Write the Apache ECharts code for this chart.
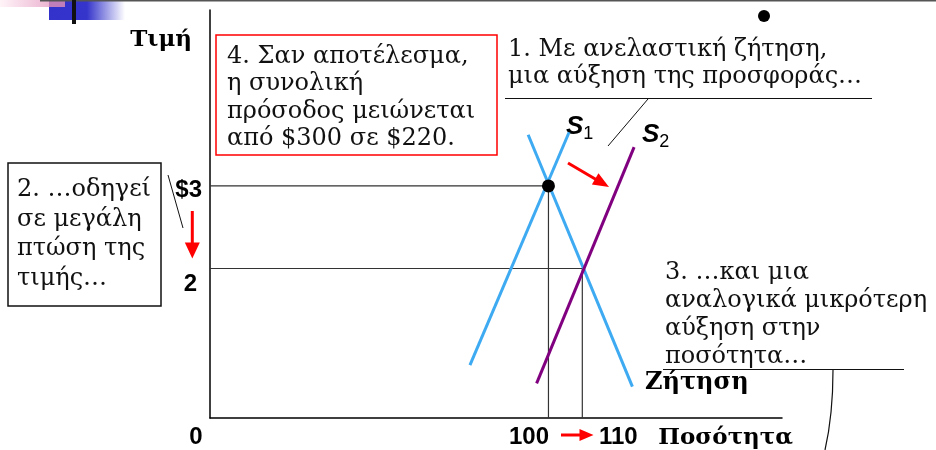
<!DOCTYPE html>
<html>
<head>
<meta charset="utf-8">
<script src="https://cdn.jsdelivr.net/npm/echarts@6/dist/echarts.min.js"></script>
<style>
html,body{margin:0;padding:0;background:#fff;}
#chart{width:936px;height:450px;}
</style>
</head>
<body>
<div id="chart"></div>
<script>
// ---- data ----
const quantityTicks = [0, 100, 110];
const quantityTickLabels = ['0', '100', '110'];
const priceTicks = [2, 3];
const priceTickLabels = ['2', '$3'];
const demand = [[94.0, 3.62], [124.8, 0.57]];
const supply1 = [[76.8, 0.83], [106.1, 3.65]];
const supply2 = [[96.5, 0.61], [125.3, 3.47]];
const oldEquilibrium = [100, 3];
const newEquilibrium = [110, 2];
const xName = 'Ποσότητα';
const yName = 'Τιμή';
const demandName = 'Ζήτηση';
const note1 = ['1. Με ανελαστική ζήτηση,', 'μια αύξηση της προσφοράς…'];
const note2 = ['2. …οδηγεί', 'σε μεγάλη', 'πτώση της', 'τιμής…'];
const note3 = ['3. …και μια', 'αναλογικά μικρότερη', 'αύξηση στην', 'ποσότητα…'];
const note4 = ['4. Σαν αποτέλεσμα,', 'η συνολική', 'πρόσοδος μειώνεται', 'από $300 σε $220.'];

const X_MIN = 0, X_MAX = 169, Y_MIN = 0.19, Y_MAX = 5.13;

const chart = echarts.init(document.getElementById('chart'), null, {renderer: 'canvas'});

const tickFont = '"Liberation Sans Narrow", "Liberation Sans", Arial, sans-serif';
const serif = '"DejaVu Serif", serif';

function guide(pt) {
  return [[X_MIN, pt[1]], [pt[0], pt[1]], [pt[0], Y_MIN]];
}

function arrow(x1, y1, x2, y2, len, w) {
  const dx = x2 - x1, dy = y2 - y1, L = Math.hypot(dx, dy);
  const ux = dx / L, uy = dy / L;
  const bx = x2 - ux * len, by = y2 - uy * len;
  return [
    {type: 'line', shape: {x1: x1, y1: y1, x2: bx + ux, y2: by + uy}, style: {stroke: '#ff0000', lineWidth: 3}, silent: true},
    {type: 'polygon', shape: {points: [[x2, y2], [bx - uy * w / 2, by + ux * w / 2], [bx + uy * w / 2, by - ux * w / 2]]}, style: {fill: '#ff0000'}, silent: true}
  ];
}

const tickStyle = {fontFamily: tickFont, fontWeight: 'bold', fontSize: 24, color: '#000'};
const xRich = {
  q0: Object.assign({}, tickStyle, {padding: [0, 28, 0, 0]}),
  q1: Object.assign({}, tickStyle, {padding: [0, 39, 0, 0]}),
  q2: Object.assign({}, tickStyle, {padding: [0, 0, 0, 72]})
};
const yRich = {
  p0: Object.assign({}, tickStyle, {padding: [31, 5, 0, 0]}),
  p1: Object.assign({}, tickStyle, {padding: [8, 0, 0, 0]})
};

const graphics = [];
// top slide decoration
graphics.push({type: 'rect', shape: {x: 49, y: 0, width: 76, height: 20}, style: {fill: new echarts.graphic.LinearGradient(0, 0, 1, 0, [{offset: 0, color: '#3333cc'}, {offset: 0.5, color: '#3535cc'}, {offset: 1, color: '#ffffff'}])}, silent: true});
graphics.push({type: 'rect', shape: {x: 0, y: 0, width: 65, height: 7}, style: {fill: new echarts.graphic.LinearGradient(0, 0, 1, 0, [{offset: 0, color: '#fff4f8'}, {offset: 1, color: '#e6a2c6'}])}, silent: true});
graphics.push({type: 'rect', shape: {x: 49, y: 0, width: 16, height: 7}, style: {fill: '#c07fba'}, silent: true});
graphics.push({type: 'rect', shape: {x: 40, y: 0, width: 896, height: 1.5}, style: {fill: '#555'}, silent: true});
graphics.push({type: 'rect', shape: {x: 72, y: 0, width: 4, height: 24}, style: {fill: '#111'}, silent: true});
graphics.push({type: 'circle', shape: {cx: 764, cy: 16, r: 6}, style: {fill: '#000'}, silent: true});

const noteFont = '24px ' + serif;
// note 4 (red box)
graphics.push({type: 'rect', shape: {x: 216, y: 35, width: 281, height: 120}, style: {fill: '#fff', stroke: '#ff0000', lineWidth: 1.5}, z: 10, silent: true});
graphics.push({type: 'text', x: 227, y: 43, z: 11, style: {text: note4.join('\n'), font: noteFont, fill: '#111', lineHeight: 27.4, verticalAlign: 'top'}, silent: true});
// note 2 (black box)
graphics.push({type: 'rect', shape: {x: 8, y: 163, width: 153, height: 143}, style: {fill: '#fff', stroke: '#111', lineWidth: 1.5}, z: 10, silent: true});
graphics.push({type: 'text', x: 17, y: 175, z: 11, style: {text: note2.join('\n'), font: noteFont, fill: '#111', lineHeight: 29.6, verticalAlign: 'top'}, silent: true});
graphics.push({type: 'line', shape: {x1: 168, y1: 175, x2: 183, y2: 228}, style: {stroke: '#111', lineWidth: 1}, silent: true});
// note 1
graphics.push({type: 'text', x: 508, y: 36, z: 11, style: {text: note1.join('\n'), font: noteFont, fill: '#111', lineHeight: 27, verticalAlign: 'top'}, silent: true});
graphics.push({type: 'line', shape: {x1: 505, y1: 98.5, x2: 872, y2: 98.5}, style: {stroke: '#111', lineWidth: 1.2}, silent: true});
graphics.push({type: 'line', shape: {x1: 648, y1: 99, x2: 608, y2: 146}, style: {stroke: '#111', lineWidth: 1}, silent: true});
// note 3
graphics.push({type: 'text', x: 665, y: 259, z: 11, style: {text: note3.join('\n'), font: noteFont, fill: '#111', lineHeight: 28, verticalAlign: 'top'}, silent: true});
graphics.push({type: 'line', shape: {x1: 663, y1: 369.5, x2: 904, y2: 369.5}, style: {stroke: '#111', lineWidth: 1.2}, silent: true});
graphics.push({type: 'bezierCurve', shape: {x1: 833, y1: 370, x2: 825, y2: 450, cpx1: 833, cpy1: 415}, style: {stroke: '#111', lineWidth: 1.2, fill: null}, silent: true});
// red arrows
arrow(192.3, 211, 192.3, 258.5, 16, 15).forEach(g => graphics.push(g));
arrow(561, 435, 593.5, 435, 14, 12).forEach(g => graphics.push(g));
arrow(568, 163, 609, 187, 16, 13).forEach(g => graphics.push(g));
// curve labels
const sRich = {s: {fontFamily: tickFont, fontStyle: 'italic', fontWeight: 'bold', fontSize: 26, fill: '#000'}, n: {fontFamily: tickFont, fontSize: 18, fill: '#000', padding: [14, 0, 0, 0]}};
graphics.push({type: 'text', x: 566, y: 111, style: {text: '{s|S}{n|1}', rich: sRich, verticalAlign: 'top'}, silent: true});
graphics.push({type: 'text', x: 642, y: 119, style: {text: '{s|S}{n|2}', rich: sRich, verticalAlign: 'top'}, silent: true});
graphics.push({type: 'text', x: 645, y: 371, style: {text: demandName, font: 'bold 24px ' + serif, fill: '#000', verticalAlign: 'top'}, silent: true});

const option = {
  animation: false,
  backgroundColor: '#fff',
  grid: {left: 210, top: 10, right: 154, bottom: 32, containLabel: false, outerBoundsMode: 'none'},
  xAxis: {
    type: 'value', min: X_MIN, max: X_MAX,
    name: xName, nameLocation: 'end', nameGap: 11,
    nameTextStyle: {fontFamily: serif, fontWeight: 'bold', fontSize: 23, color: '#000', align: 'right', verticalAlign: 'top', padding: [9, 0, 0, 0]},
    axisLine: {show: true, onZero: false, lineStyle: {color: '#000', width: 1.5}},
    axisTick: {show: false},
    splitLine: {show: false},
    axisLabel: {
      show: true, margin: 7, customValues: quantityTicks,
      formatter: function (v) { const i = quantityTicks.indexOf(v); return i < 0 ? '' : '{q' + i + '|' + quantityTickLabels[i] + '}'; },
      rich: xRich
    }
  },
  yAxis: {
    type: 'value', min: Y_MIN, max: Y_MAX,
    name: yName, nameLocation: 'end', nameGap: -30,
    nameTextStyle: {fontFamily: serif, fontWeight: 'bold', fontSize: 23, color: '#000', align: 'right', verticalAlign: 'middle', padding: [0, 18, 0, 0]},
    axisLine: {show: true, onZero: false, lineStyle: {color: '#000', width: 1.5}},
    axisTick: {show: false},
    splitLine: {show: false},
    axisLabel: {
      show: true, margin: 8, customValues: priceTicks,
      formatter: function (v) { const i = priceTicks.indexOf(v); return i < 0 ? '' : '{p' + i + '|' + priceTickLabels[i] + '}'; },
      rich: yRich
    }
  },
  series: [
    {type: 'line', name: 'guide1', data: guide(oldEquilibrium), symbol: 'none', lineStyle: {color: '#333', width: 1.2}, z: 1, silent: true},
    {type: 'line', name: 'guide2', data: guide(newEquilibrium), symbol: 'none', lineStyle: {color: '#333', width: 1.2}, z: 1, silent: true},
    {type: 'line', name: demandName, data: demand, symbol: 'none', lineStyle: {color: '#3daaf2', width: 3}, z: 3},
    {type: 'line', name: 'S1', data: supply1, symbol: 'none', lineStyle: {color: '#3daaf2', width: 3}, z: 3},
    {type: 'line', name: 'S2', data: supply2, symbol: 'none', lineStyle: {color: '#800080', width: 3}, z: 3},
    {type: 'scatter', name: 'eq', data: [oldEquilibrium], symbolSize: 13, itemStyle: {color: '#000', opacity: 1}, z: 5}
  ],
  graphic: graphics
};
chart.setOption(option);
</script>
</body>
</html>
